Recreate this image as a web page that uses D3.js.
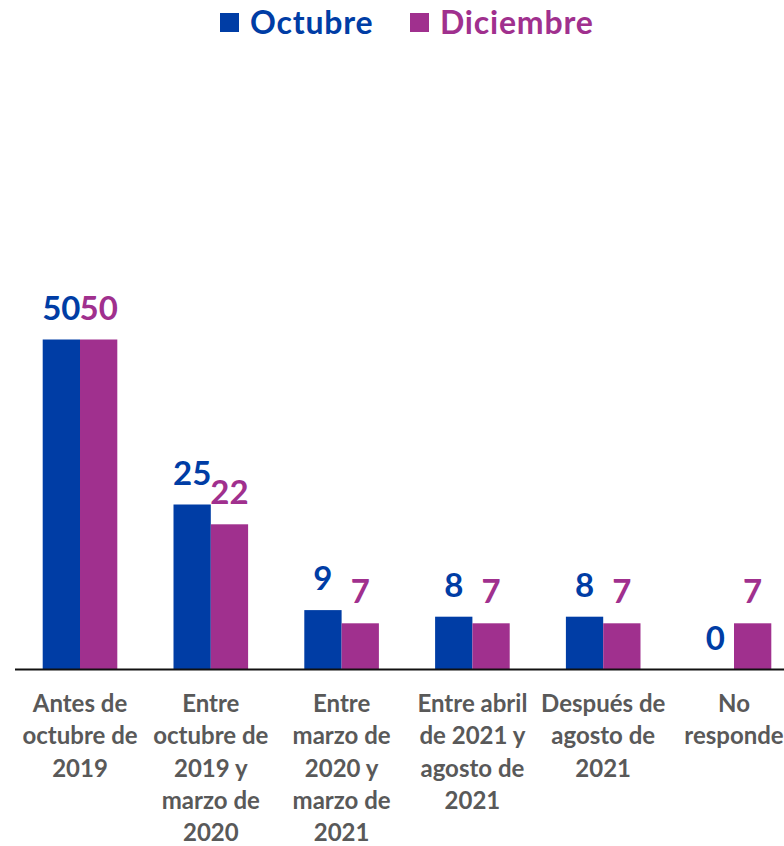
<!DOCTYPE html>
<html>
<head>
<meta charset="utf-8">
<script src="https://cdn.jsdelivr.net/npm/d3@7/dist/d3.min.js"></script>
<style>
  html, body { margin: 0; padding: 0; background: #fff; overflow: hidden; }
  svg { display: block; font-family: Lato, "Open Sans", sans-serif; font-weight: bold; }
</style>
</head>
<body>
<svg id="chart" width="784" height="846"></svg>
<script>
// Periods (each label split into the lines it is drawn on)
const categories = [
  ["Antes de", "octubre de", "2019"],
  ["Entre", "octubre de", "2019 y", "marzo de", "2020"],
  ["Entre", "marzo de", "2020 y", "marzo de", "2021"],
  ["Entre abril", "de 2021 y", "agosto de", "2021"],
  ["Después de", "agosto de", "2021"],
  ["No", "responde"]
];
const seriesNames = ["Octubre", "Diciembre"];
const octubre = [50, 25, 9, 8, 8, 0];
const diciembre = [50, 22, 7, 7, 7, 7];
const colors = ["#003DA5", "#A0308E"];

const svg = d3.select("#chart");
const baseY = 669.5;

const x0 = d3.scaleBand()
  .domain(d3.range(categories.length))
  .range([14.6, 799.4])
  .paddingInner(0)
  .paddingOuter(0);

const x1 = d3.scaleBand()
  .domain(seriesNames)
  .range([x0.bandwidth() / 2 - 37.3, x0.bandwidth() / 2 + 37.3]);

const y = d3.scaleLinear().domain([0, 50]).range([baseY, 339.5]);

const values = [octubre, diciembre];

const groups = svg.append("g").selectAll("g")
  .data(categories.map((c, i) => i))
  .join("g")
  .attr("transform", i => `translate(${x0(i)},0)`);

seriesNames.forEach((name, s) => {
  groups.append("rect")
    .attr("x", x1(name))
    .attr("width", x1.bandwidth())
    .attr("y", i => y(values[s][i]))
    .attr("height", i => baseY - y(values[s][i]))
    .attr("fill", colors[s]);

  groups.append("text")
    .attr("x", x1(name) + x1.bandwidth() / 2)
    .attr("y", i => y(values[s][i]) - 20)
    .attr("text-anchor", "middle")
    .attr("font-size", 33)
    .attr("fill", colors[s])
    .text(i => values[s][i]);
});

// Baseline
svg.append("line")
  .attr("x1", 15).attr("x2", 784)
  .attr("y1", baseY).attr("y2", baseY)
  .attr("stroke", "#111").attr("stroke-width", 2);

// Category labels
const labels = svg.append("g").selectAll("text")
  .data(categories)
  .join("text")
  .attr("text-anchor", "middle")
  .attr("font-size", 24)
  .attr("fill", "#595959")
  .attr("transform", (d, i) => `translate(${x0(i) + x0.bandwidth() / 2},0)`);

labels.selectAll("tspan")
  .data(d => d)
  .join("tspan")
  .attr("x", 0)
  .attr("y", (d, j) => 712 + j * 32.3)
  .text(d => d);

// Legend
const legendX = [220, 410];
const legend = svg.append("g").selectAll("g")
  .data(seriesNames)
  .join("g")
  .attr("transform", (d, i) => `translate(${legendX[i]},0)`);

legend.append("rect")
  .attr("x", 0).attr("y", 13)
  .attr("width", 19).attr("height", 19)
  .attr("fill", (d, i) => colors[i]);

legend.append("text")
  .attr("x", 30).attr("y", 34)
  .attr("font-size", 32)
  .attr("letter-spacing", 0.8)
  .attr("fill", (d, i) => colors[i])
  .text(d => d);
</script>
</body>
</html>
